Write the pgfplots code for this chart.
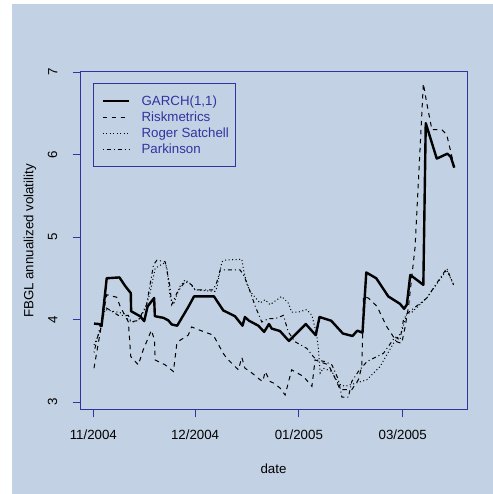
\documentclass[border=0pt]{standalone}
\usepackage{pgfplots}
\pgfplotsset{compat=1.18}
\usepackage{fontspec}
\setmainfont{Liberation Sans}

\definecolor{panelbg}{RGB}{194,209,227}
\definecolor{frameblue}{RGB}{51,51,160}

\newcommand{\lblfont}{\fontsize{13.3bp}{16bp}\selectfont}

\begin{document}
\begin{tikzpicture}
% page and panel background
\fill[white] (0bp,0bp) rectangle (493bp,494bp);
\fill[panelbg] (12bp,0bp) rectangle (493bp,490bp);
\useasboundingbox (0bp,0bp) rectangle (493bp,494bp);
\begin{axis}[
  at={(80bp,84bp)}, anchor=south west,
  scale only axis, width=387bp, height=338bp,
  xmin=-3.87, xmax=108.7, ymin=2.903, ymax=7.0,
  axis line style={draw=frameblue, line width=1bp},
  xtick pos=bottom, ytick pos=left,
  tick align=outside, major tick length=7.5bp,
  tick style={draw=frameblue, line width=0.8bp},
  xtick={0,29.6,59.8,90},
  xticklabels={11/2004,12/2004,01/2005,03/2005},
  ytick={3,4,5,6,7},
  /pgf/number format/assume math mode=true,
  xticklabel style={font=\lblfont, text=black, anchor=base, inner sep=0pt, yshift=-22.3bp},
  yticklabel style={font=\lblfont, text=black, xshift=-15bp, rotate=90, anchor=south, inner sep=0pt},
  xlabel={date},
  ylabel={FBGL annualized volatility},
  xlabel style={font=\lblfont, at={(axis description cs:0.5,0)}, anchor=center, inner sep=0pt, yshift=-59bp},
  ylabel style={font=\lblfont, at={(axis description cs:0,0.5)}, anchor=center, inner sep=0pt, yshift=50bp},
  legend style={at={(0.0344,0.9666)}, anchor=north west, draw=frameblue, line width=1bp,
    fill=none, text=frameblue, font=\lblfont, row sep=1bp,
    inner xsep=4.2bp, inner ysep=9.6bp},
  legend cell align=left,
  legend image code/.code={\path (0bp,0bp) (39.2bp,0bp); \draw[#1] (3.5bp,0bp) -- (30.2bp,0bp);},
]
% GARCH(1,1)
\addplot[black, line width=2.4bp, line join=round] coordinates {
(0.2,3.95) (1.7,3.945) (2.4,3.92) (3.9,4.50) (7.6,4.51) (9.2,4.41) (10.9,4.32)
(11.0,4.10) (13.6,4.04) (14.8,3.98) (15.8,4.16) (17.7,4.26) (17.9,4.04) (20.4,4.02)
(21.8,3.99) (22.8,3.94) (24.4,3.925) (27.6,4.15) (29.3,4.28) (35.1,4.28) (37.8,4.11)
(41.2,4.04) (43.4,3.925) (44.1,4.03) (45.3,3.985) (48.0,3.925) (49.7,3.85) (51.1,3.945)
(51.9,3.89) (54.3,3.86) (56.9,3.74) (61.8,3.945) (64.7,3.81) (65.8,4.03) (69.2,3.985)
(72.6,3.83) (75.4,3.80) (76.8,3.865) (78.3,3.84) (79.4,4.57) (82.3,4.50) (85.8,4.28)
(89.2,4.19) (90.4,4.13) (91.2,4.18) (92.2,4.54) (96.0,4.42) (96.7,6.38) (99.9,5.95)
(103.0,6.01) (104.0,5.97) (105.0,5.84)
};
\addlegendentry{GARCH(1,1)}
% Riskmetrics
\addplot[black, line width=1bp, dash pattern=on 4.5bp off 4.5bp] coordinates {
(0.2,3.41) (3.9,4.30) (6.8,4.27) (7.8,4.16) (10.2,3.97) (10.9,3.55) (13.1,3.45)
(14.5,3.63) (16.9,3.87) (17.8,3.75) (18.0,3.51) (20.9,3.45) (23.3,3.37) (24.3,3.71)
(25.3,3.75) (27.6,3.81) (28.6,3.91) (31.0,3.87) (34.9,3.81) (37.8,3.59) (38.8,3.53)
(42.2,3.39) (43.2,3.54) (44.1,3.41) (45.6,3.37) (48.5,3.27) (49.3,3.25) (50.0,3.37)
(51.4,3.25) (52.4,3.23) (54.3,3.17) (55.8,3.085) (57.7,3.39) (61.1,3.31) (63.6,3.19)
(64.5,3.51) (68.4,3.45) (70.3,3.29) (71.8,3.15) (75.2,3.15) (77.1,3.27) (78.1,3.43)
(78.6,4.28) (80.0,4.26) (82.5,4.16) (85.4,3.91) (87.3,3.79) (88.3,3.73) (89.7,3.71)
(90.7,3.91) (91.7,4.16) (93.6,4.88) (96.0,6.86) (97.0,6.62) (98.5,6.30) (101.4,6.30)
(102.8,6.24) (104.8,5.89)
};
\addlegendentry{Riskmetrics}
% Roger Satchell
\addplot[black, line width=1bp, dash pattern=on 1bp off 2.5bp] coordinates {
(0.2,3.69) (1.9,3.85) (3.4,4.12) (9.2,4.07) (10.2,3.99) (11.6,3.97) (13.1,3.99)
(15.0,4.12) (16.5,4.32) (18.0,4.62) (20.4,4.68) (21.4,4.64) (22.3,4.28) (23.3,4.18)
(25.2,4.40) (26.7,4.48) (28.1,4.44) (29.6,4.36) (35.4,4.34) (35.9,4.38) (37.4,4.70)
(38.3,4.72) (43.2,4.73) (43.7,4.60) (44.6,4.44) (45.6,4.34) (48.5,4.20) (50.0,4.24)
(51.4,4.18) (54.8,4.28) (56.7,4.20) (57.7,4.09) (59.7,4.09) (62.1,4.12) (63.6,4.05)
(65.0,3.81) (65.5,3.63) (66.0,3.35) (66.9,3.41) (69.4,3.37) (71.3,3.22) (73.2,3.19)
(75.7,3.22) (79.6,3.27) (83.4,3.43) (87.3,3.71) (89.7,3.85) (91.2,4.07) (92.7,4.09)
(97.0,4.26) (102.8,4.60) (104.8,4.42)
};
\addlegendentry{Roger Satchell}
% Parkinson
\addplot[black, line width=1bp, dash pattern=on 1bp off 3bp on 4bp off 3bp] coordinates {
(0.2,3.60) (1.9,3.90) (3.4,4.15) (7.3,4.05) (10.2,4.05) (11.0,3.97) (13.1,3.99)
(15.5,4.18) (17.5,4.66) (18.5,4.72) (20.9,4.70) (22.3,4.40) (22.8,4.18) (24.3,4.32)
(26.7,4.46) (28.6,4.42) (29.6,4.36) (34.9,4.36) (35.9,4.45) (36.9,4.60) (42.7,4.60)
(43.7,4.54) (45.1,4.40) (47.1,4.16) (49.0,3.97) (50.9,4.01) (52.9,4.01) (55.3,4.05)
(56.7,3.85) (58.7,3.73) (62.1,3.65) (64.0,3.55) (65.0,3.51) (67.4,3.49) (69.4,3.45)
(71.3,3.27) (72.3,3.06) (74.2,3.06) (75.2,3.25) (77.1,3.37) (79.6,3.49) (84.4,3.59)
(87.8,3.79) (89.2,3.75) (90.2,3.99) (91.2,4.07) (97.0,4.26) (102.8,4.62) (104.8,4.42)
};
\addlegendentry{Parkinson}
\end{axis}
\end{tikzpicture}
\end{document}
